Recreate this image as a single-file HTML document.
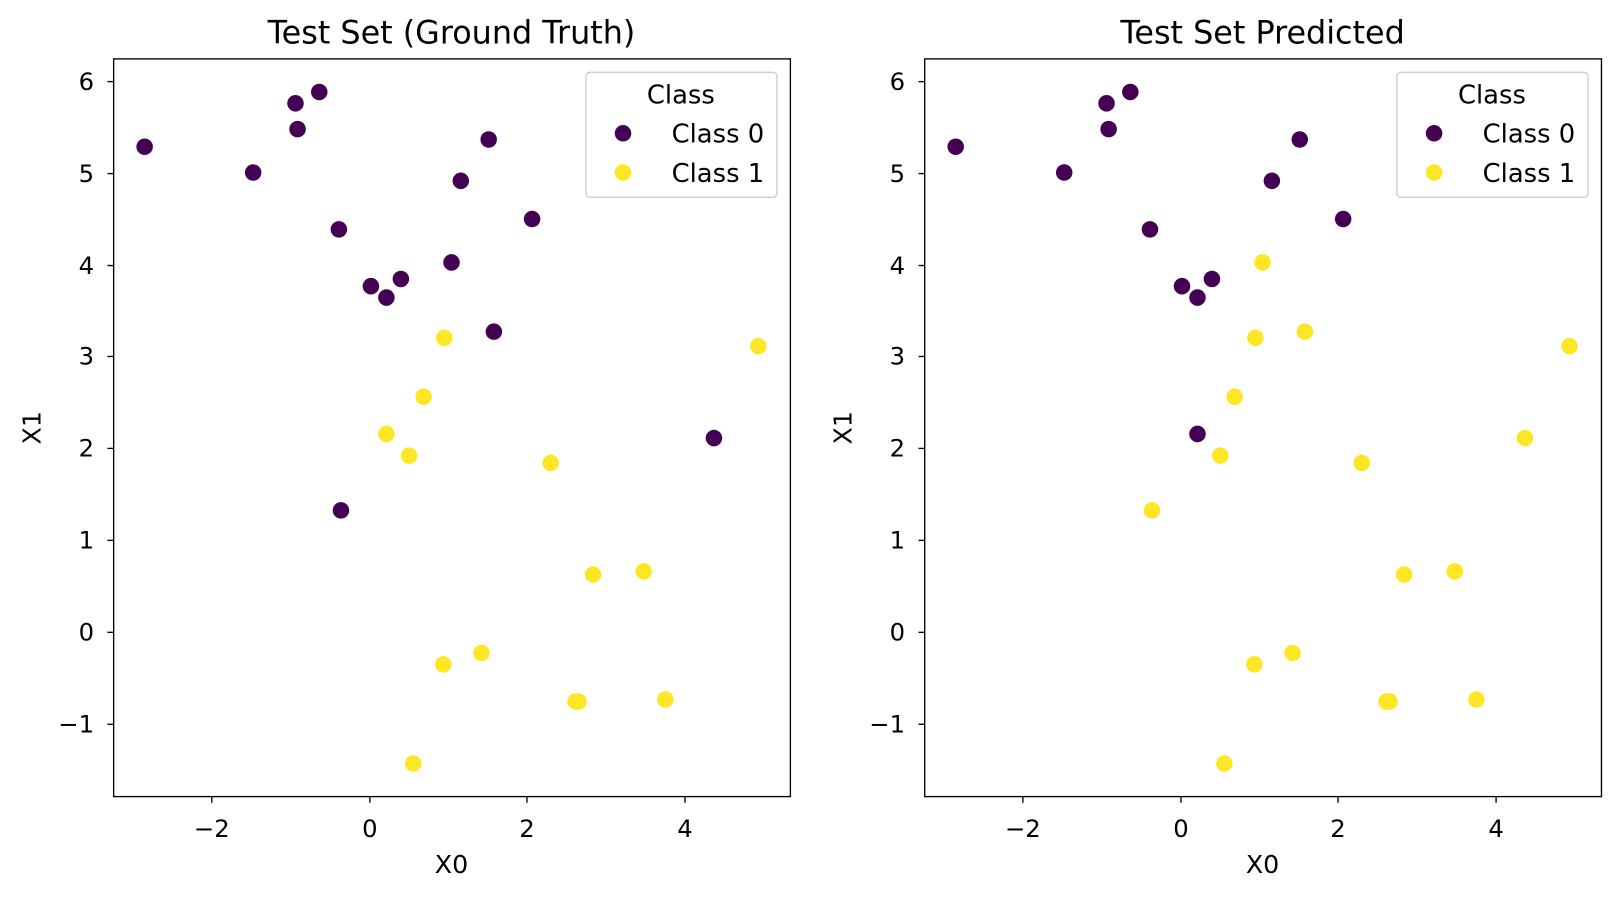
<!DOCTYPE html>
<html><head><meta charset="utf-8"><style>body{margin:0;background:#fff}svg{display:block}</style></head><body>
<svg width="1620" height="898" xmlns="http://www.w3.org/2000/svg" font-family="'DejaVu Sans','Liberation Sans',sans-serif">
<defs>
<g id="ax">
<rect x="110" y="57" width="655" height="714" fill="none" stroke="#000" stroke-width="1.3"/>
<g stroke="#000" stroke-width="1.3">
<line x1="205" y1="771" x2="205" y2="777"/><line x1="358" y1="771" x2="358" y2="777"/><line x1="510" y1="771" x2="510" y2="777"/><line x1="663" y1="771" x2="663" y2="777"/>
<line x1="104" y1="79" x2="110" y2="79"/><line x1="104" y1="168" x2="110" y2="168"/><line x1="104" y1="257" x2="110" y2="257"/><line x1="104" y1="345" x2="110" y2="345"/><line x1="104" y1="434" x2="110" y2="434"/><line x1="104" y1="523" x2="110" y2="523"/><line x1="104" y1="612" x2="110" y2="612"/><line x1="104" y1="701" x2="110" y2="701"/>
</g>
<g font-size="23.5" fill="#000" text-anchor="middle">
<text x="205" y="810">−2</text><text x="358" y="810">0</text><text x="510" y="810">2</text><text x="663" y="810">4</text>
</g>
<text x="437" y="845" font-size="24.5" text-anchor="middle">X0</text>
<g font-size="23.5" fill="#000" text-anchor="end">
<text x="91" y="87">6</text><text x="91" y="176">5</text><text x="91" y="265">4</text><text x="91" y="353">3</text><text x="91" y="442">2</text><text x="91" y="531">1</text><text x="91" y="620">0</text><text x="91" y="709">−1</text>
</g>
<text transform="translate(39,414) rotate(-90)" font-size="24.5" text-anchor="middle">X1</text>
</g>
<g id="leg">
<rect x="567" y="70" width="185" height="121" rx="4" fill="#fff" stroke="#ccc" stroke-width="1.3"/>
<text x="659" y="100" font-size="25" text-anchor="middle">Class</text>
<circle cx="603" cy="129" r="8" fill="#440154"/><text x="650" y="138" font-size="25">Class 0</text>
<circle cx="603" cy="167" r="8" fill="#fde725"/><text x="650" y="176" font-size="25">Class 1</text>
</g>
<g id="common">
<g fill="#440154">
<circle cx="140" cy="142" r="8"/><circle cx="245" cy="167" r="8"/><circle cx="286" cy="100" r="8"/><circle cx="288" cy="125" r="8"/><circle cx="309" cy="89" r="8"/><circle cx="328" cy="222" r="8"/><circle cx="359" cy="277" r="8"/><circle cx="374" cy="288" r="8"/><circle cx="388" cy="270" r="8"/><circle cx="446" cy="175" r="8"/><circle cx="473" cy="135" r="8"/><circle cx="515" cy="212" r="8"/>
</g>
<g fill="#fde725">
<circle cx="430" cy="327" r="8"/><circle cx="410" cy="384" r="8"/><circle cx="396" cy="441" r="8"/><circle cx="533" cy="448" r="8"/><circle cx="734" cy="335" r="8"/><circle cx="574" cy="556" r="8"/><circle cx="623" cy="553" r="8"/><circle cx="429" cy="643" r="8"/><circle cx="466" cy="632" r="8"/><circle cx="557" cy="679" r="8"/><circle cx="560" cy="679" r="8"/><circle cx="644" cy="677" r="8"/><circle cx="400" cy="739" r="8"/>
</g>
</g>
</defs>
<g transform="scale(1.0332)">
<use href="#ax"/><use href="#common"/>
<g fill="#440154"><circle cx="437" cy="254" r="8"/><circle cx="478" cy="321" r="8"/><circle cx="691" cy="424" r="8"/><circle cx="330" cy="494" r="8"/></g>
<circle cx="374" cy="420" r="8" fill="#fde725"/>
<use href="#leg"/>
<text x="437" y="42" font-size="30.8" text-anchor="middle">Test Set (Ground Truth)</text>
<g transform="translate(785,0)">
<use href="#ax"/><use href="#common"/>
<g fill="#fde725"><circle cx="437" cy="254" r="8"/><circle cx="478" cy="321" r="8"/><circle cx="691" cy="424" r="8"/><circle cx="330" cy="494" r="8"/></g>
<circle cx="374" cy="420" r="8" fill="#440154"/>
<use href="#leg"/>
<text x="437" y="42" font-size="30.8" text-anchor="middle">Test Set Predicted</text>
</g>
</g>
</svg>
</body></html>
